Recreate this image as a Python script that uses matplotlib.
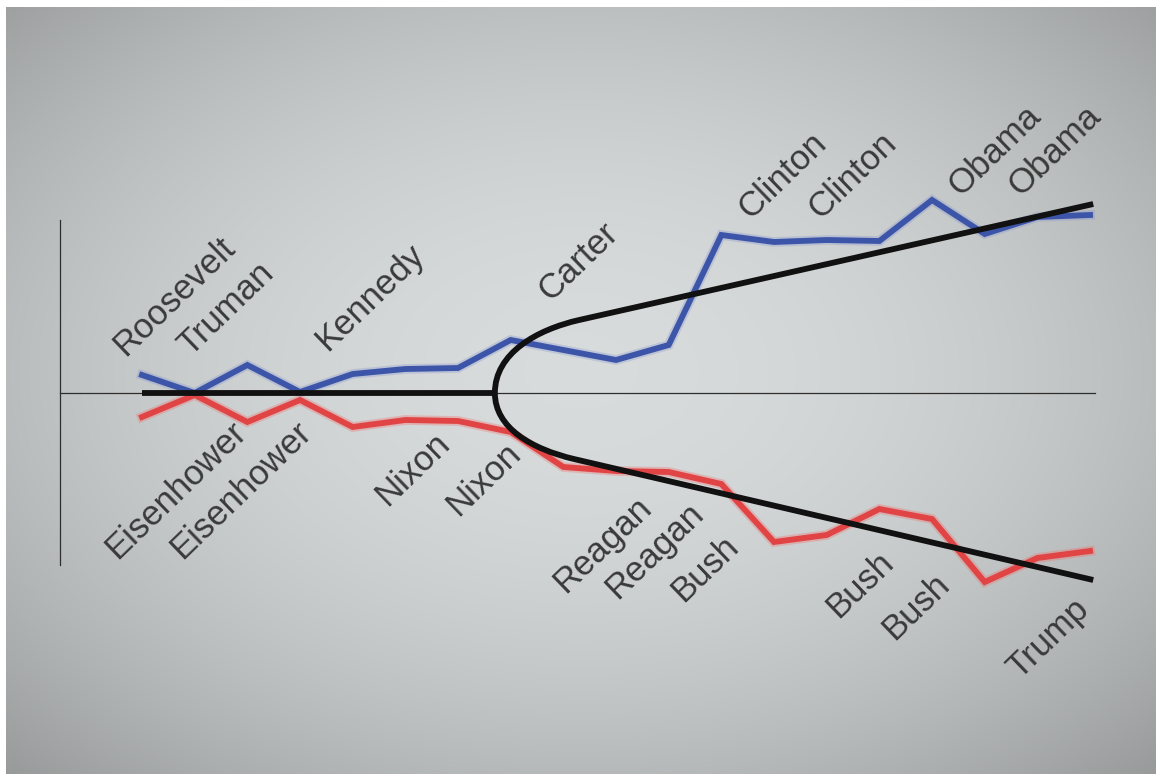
import numpy as np
import matplotlib
matplotlib.use('Agg')
import matplotlib.pyplot as plt
from matplotlib.path import Path
from matplotlib.patches import PathPatch

# one point per presidential half-term, index 0..18
terms = list(range(19))
blue_vals = [1.8, 0.0, 2.8, 0.1, 1.9, 2.4, 2.5, 5.3, 4.3, 3.3, 4.8,
             15.8, 15.1, 15.3, 15.2, 19.3, 15.9, 17.6, 17.8]
red_vals = [-2.4, -0.2, -2.9, -0.7, -3.4, -2.7, -2.8, -3.9, -7.4, -7.8, -7.9,
            -9.1, -14.9, -14.2, -11.6, -12.6, -18.9, -16.5, -15.8]

# trend: flat part then the sideways fork
flat_x = [0, 6.7]
flat_y = [0, 0]
fork_x = [18.06, 8.3, 7.5, 6.7, 6.7, 6.7, 7.4, 8.2, 18.06]
fork_y = [18.9, 7.3, 6.34, 4.0, 0.0, -3.5, -5.6, -6.6, -18.7]

top_names = ['Roosevelt', 'Truman', 'Kennedy', 'Carter', 'Clinton', 'Clinton', 'Obama', 'Obama']
top_x = [-0.32, 0.91, 3.51, 7.75, 11.54, 12.87, 15.53, 16.67]
top_y = [3.6, 3.6, 4.1, 9.1, 17.3, 17.3, 19.6, 19.6]

low_names = ['Eisenhower', 'Eisenhower', 'Nixon', 'Nixon', 'Reagan', 'Reagan',
             'Bush', 'Bush', 'Bush', 'Trump']
low_x = [-0.47, 0.76, 4.65, 6.0, 8.03, 9.02, 10.27, 13.21, 14.28, 16.65]
low_y = [-16.7, -16.7, -11.4, -12.4, -20.1, -20.7, -21.0, -22.6, -24.8, -28.7]

W, H = 1156, 774
fig = plt.figure(figsize=(W / 100, H / 100), dpi=100)
fig.patch.set_facecolor('white')

# grey vignette backdrop
bg = fig.add_axes([6 / W, 0, 1 - 6 / W, 1 - 7 / H])
gx, gy = np.meshgrid(np.linspace(-1, 1, 400), np.linspace(-1, 1, 300))
r2 = gx ** 2 + ((gy + 0.05) / 1.0) ** 2
val = np.clip(0.86 - 0.12 * r2, 0, 1)
img = np.dstack([val * 0.985, val, val])
bg.imshow(img, aspect='auto', extent=[0, 1, 0, 1], interpolation='bicubic')
bg.axis('off')

ax = fig.add_axes([0, 0, 1, 1])
ax.patch.set_alpha(0)
ax.set_xlim(-142 / 52.67, (W - 142) / 52.67)
ax.set_ylim((393 - H) / 10, 393 / 10)
ax.axis('off')

# axes lines
x0 = (60 - 142) / 52.67
ax.plot([x0, (1095 - 142) / 52.67], [0, 0], color='#2e2e2e', lw=0.9, zorder=1)
ax.plot([x0, x0], [-17.2, 17.3], color='#2e2e2e', lw=0.9, zorder=1)

# red / blue series with a faint glow
ax.plot(terms, red_vals, color='#f07070', lw=7, alpha=0.35, solid_joinstyle='miter', zorder=2)
ax.plot(terms, red_vals, color='#e04444', lw=4.2, solid_joinstyle='miter', zorder=3)
ax.plot(terms, blue_vals, color='#8090d0', lw=7, alpha=0.3, solid_joinstyle='miter', zorder=2)
ax.plot(terms, blue_vals, color='#3c55a8', lw=4.2, solid_joinstyle='miter', zorder=3)

# black trend
ax.plot(flat_x, flat_y, color='#111111', lw=4.2, solid_capstyle='butt', zorder=4)
codes = [Path.MOVETO, Path.LINETO, Path.CURVE4, Path.CURVE4, Path.CURVE4,
         Path.CURVE4, Path.CURVE4, Path.CURVE4, Path.LINETO]
fork = Path(np.column_stack([fork_x, fork_y]), codes)
ax.add_patch(PathPatch(fork, fill=False, edgecolor='#111111', lw=4.2,
                       capstyle='butt', joinstyle='round', zorder=4))

txt = dict(rotation=44, rotation_mode='anchor', ha='left', va='baseline',
           fontsize=25, color='#3a3a3a', family=['Liberation Sans', 'DejaVu Sans'], zorder=5)
for name, tx, ty in zip(top_names, top_x, top_y):
    ax.text(tx, ty, name, **txt)
for name, tx, ty in zip(low_names, low_x, low_y):
    ax.text(tx, ty, name, **txt)

fig.savefig('out.png', dpi=100)
